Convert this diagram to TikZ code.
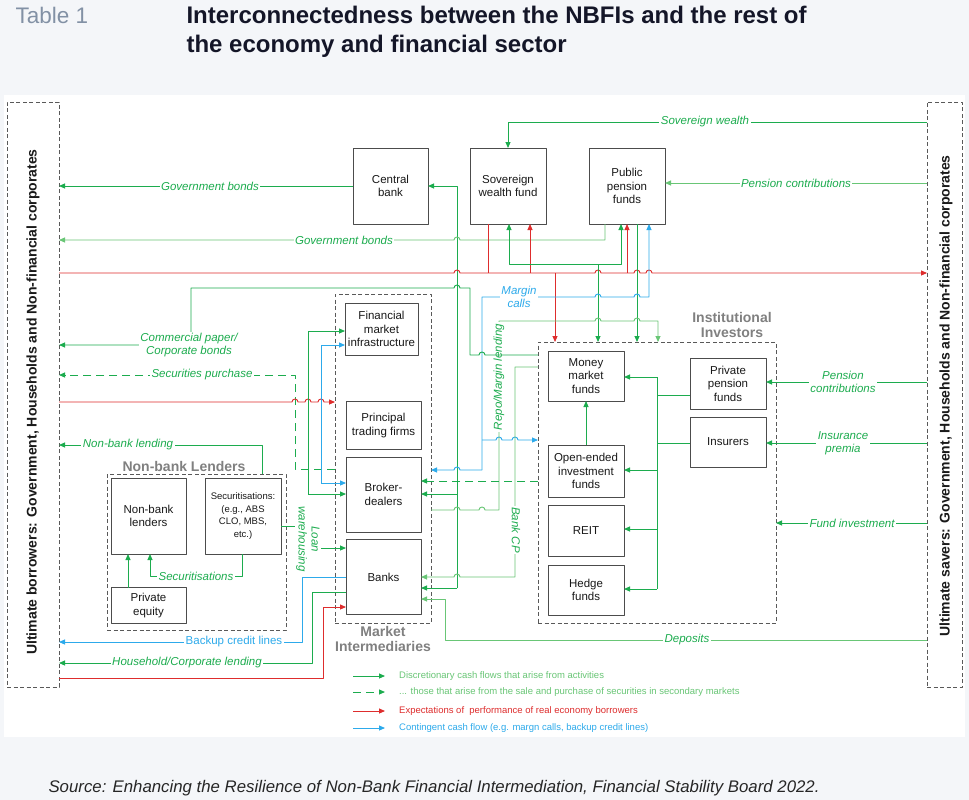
\documentclass[tikz,border=0pt]{standalone}
\usepackage{fontspec}
\setmainfont{Liberation Sans}
\usetikzlibrary{arrows.meta}
\definecolor{gcol}{RGB}{28,172,78}
\definecolor{lgcol}{RGB}{105,198,118}
\definecolor{rcol}{RGB}{222,45,45}
\definecolor{bcol}{RGB}{45,170,235}
\definecolor{bgcol}{RGB}{244,246,249}
\definecolor{tabcol}{RGB}{130,145,165}
\definecolor{titcol}{RGB}{20,22,40}
\begin{document}
\begin{tikzpicture}[x=1pt,y=-1pt,>={Triangle[length=6pt,width=5pt]},line join=round,
    box/.style={draw=black!70,line width=0.9pt,fill=white,inner sep=0pt,outer sep=0pt,align=center,text=black!90,font=\fontsize{11.5}{13.5}\selectfont},
    grpbox/.style={draw=black!65,line width=0.9pt,dash pattern=on 4pt off 2.5pt,inner sep=0pt,outer sep=0pt},
    grplab/.style={text=black!50,font=\fontsize{14}{15}\selectfont\bfseries,align=center},
    side/.style={text=black!90,font=\fontsize{14}{15}\selectfont\bfseries,inner sep=0pt},
    flow/.style={gcol,line width=0.9pt},
    lflow/.style={lgcol,line width=0.9pt},
    sflow/.style={draw=gcol,line width=1pt,dash pattern=on 8pt off 5pt},
    rflow/.style={rcol,line width=0.9pt},
    bflow/.style={bcol,line width=0.9pt},
    lab/.style={fill=white,inner sep=1.5pt,text=gcol,align=center,font=\fontsize{11.5}{13}\selectfont\itshape},
    legtext/.style={anchor=west,inner sep=0pt,font=\fontsize{9.5}{11}\selectfont}]
    \useasboundingbox (0,0) rectangle (969,800);
    \fill[bgcol] (0,0) rectangle (969,800);
    \fill[white] (4,95) rectangle (965,737);
    \def\hopr{arc[start angle=180,end angle=0,radius=3pt]}
    \def\hopl{arc[start angle=0,end angle=180,radius=3pt]}
    % header
    \node[anchor=base west,text=tabcol,font=\fontsize{22.5}{26}\selectfont] (tab) at (12,24) {Table 1};
    \node[anchor=base west,text=titcol,font=\fontsize{24}{29}\selectfont\bfseries] (tit1) at (183,24) {Interconnectedness between the NBFIs and the rest of};
    \node[anchor=base west,text=titcol,font=\fontsize{24}{29}\selectfont\bfseries] (tit2) at (183,53) {the economy and financial sector};
    % ultimate borrowers / savers
    \node[grpbox,minimum width=52,minimum height=585] (lb) at (33,394.5) {};
    \node[grpbox,minimum width=35,minimum height=585] (rb) at (944.5,394.5) {};
    \node[side,rotate=90] (lbt) at (33,402) {Ultimate borrowers: Government, Households and Non-financial corporates};
    \node[side,rotate=90] (rbt) at (946,396) {Ultimate savers: Government, Households and Non-financial corporates};
    % groups
    \node[grpbox,minimum width=96,minimum height=329] (mi) at (383,458.5) {};
    \node[grpbox,minimum width=238,minimum height=281] (ii) at (657,482.5) {};
    \node[grpbox,minimum width=179,minimum height=156] (nb) at (196.5,552) {};
    \node[grplab] (mit) at (383,639) {Market\\Intermediaries};
    \node[grplab] (iit) at (732,325) {Institutional\\Investors};
    \node[grplab] (nbt) at (184,466) {Non-bank Lenders};
    % boxes
    \node[box,minimum width=75,minimum height=76] (cb) at (390.5,186) {Central\\bank};
    \node[box,minimum width=76,minimum height=76] (swf) at (508,186) {Sovereign\\wealth fund};
    \node[box,minimum width=76,minimum height=76] (ppf) at (627,186) {Public\\pension\\funds};
    \node[box,minimum width=73,minimum height=52] (fmi) at (381.5,329) {Financial\\market\\infrastructure};
    \node[box,minimum width=75,minimum height=48] (ptf) at (383.5,425.5) {Principal\\trading firms};
    \node[box,minimum width=75,minimum height=75] (bd) at (383.5,494.5) {Broker-\\dealers};
    \node[box,minimum width=75,minimum height=75] (bank) at (383.5,577) {Banks};
    \node[box,minimum width=76,minimum height=50] (mmf) at (586,376) {Money\\market\\funds};
    \node[box,minimum width=76,minimum height=52] (oef) at (586,471) {Open-ended\\investment\\funds};
    \node[box,minimum width=76,minimum height=51] (reit) at (586,530.5) {REIT};
    \node[box,minimum width=76,minimum height=50] (hf) at (586,590) {Hedge\\funds};
    \node[box,minimum width=76,minimum height=51] (priv) at (728,383.5) {Private\\pension\\funds};
    \node[box,minimum width=76,minimum height=50] (ins) at (728,442) {Insurers};
    \node[box,minimum width=75,minimum height=76] (nbl) at (148.5,516) {Non-bank\\lenders};
    \node[box,minimum width=76,minimum height=76,font=\fontsize{9.5}{12.5}\selectfont] (sec) at (243,516) {Securitisations:\\(e.g., ABS\\CLO, MBS,\\etc.)};
    \node[box,minimum width=75,minimum height=36] (pe) at (148.5,605.5) {Private\\equity};
    % top row flows
    \draw[flow,->] (rb.west |- 0,122) -| (swf.north);
    \node[lab] (lsw) at (705,122) {Sovereign wealth};
    \draw[lflow,->] (rb.west |- 0,183) -- (ppf.east |- 0,183);
    \node[lab] (lpc) at (796,183) {Pension contributions};
    \draw[flow,->] (cb.west) -- (lb.east |- cb);
    \node[lab] (lgb1) at (210,186) {Government bonds};
    \draw[flow,->] (457,588) |- (cb.east);
    \draw[flow,->] (457,494) -- (bd.east |- 0,494);
    \draw[flow,->] (457,588) -- (bank.east |- 0,588);
    \draw[lflow,->] (ppf.south -| 605,0) -- (605,240) -- (460,240) \hopl -- (lb.east |- 0,240);
    \node[lab] (lgb2) at (344,240) {Government bonds};
    % expectations
    \draw[rflow,->] (lb.east |- 0,273) -- (454,273) \hopr -- (595,273) \hopr -- (634,273) \hopr -- (646,273) \hopr -- (rb.west |- 0,273);
    \draw[rflow] (swf.south -| 488,0) -- (488,273);
    \foreach \xx/\bx in {530/swf,627/ppf} \draw[rflow,->] (\xx,273) -- (\bx.south -| \xx,0);
    \draw[rflow,->] (555,273) -- (ii.north -| 555,0);
    \draw[flow,->] (598,264) -- (509,264) -- (swf.south -| 509,0);
    \draw[flow,->] (598,264) -- (621,264) -- (ppf.south -| 621,0);
    \draw[flow,->] (598,264) -- (ii.north -| 598,0);
    \draw[flow,->] (ppf.south -| 637,0) -- (ii.north -| 637,0);
    % margin calls
    \draw[bflow,->] (482,470) -- (482,297) -- (595,297) \hopr -- (634,297) \hopr -- (649,297) -- (ppf.south -| 649,0);
    \draw[bflow,->] (482,470) -- (460,470) \hopl -- (mi.east |- 0,470);
    \draw[bflow,->] (482,440) -- (496,440) \hopr -- (512,440) \hopr -- (ii.west |- 0,440);
    \node[lab,text=bcol] (lmc) at (519,297) {Margin\\calls};
    % repo / bank CP
    \draw[lflow,->] (mi.east |- 0,510) -- (454,510) \hopr -- (479,510) \hopr -- (499,510) -- (499,321) -- (595,321) \hopr -- (634,321) \hopr -- (658,321) -- (ii.north -| 658,0);
    \node[lab,rotate=90] (lrm) at (499,377) {Repo/Margin lending};
    \draw[flow,->] (ii.west |- 0,355) -- (485,355) \hopl -- (470,355) -- (470,288) -- (460,288) \hopl -- (191,288) -- (191,345) -- (lb.east |- 0,345);
    \node[lab] (lcp) at (189,345) {Commercial paper/\\Corporate bonds};
    \draw[lflow,->] (ii.west |- 0,367) -- (515,367) -- (515,577) -- (460,577) \hopl -- (bank.east |- 0,577);
    \node[lab,rotate=-90] (lbc) at (516,530) {Bank CP};
    \draw[sflow,->] (ii.west |- 0,481) -- (bd.east |- 0,481);
    \draw[lflow,->] (rb.west |- 0,640) -- (445,640) -- (445,599) -- (bank.east |- 0,599);
    \node[lab] (ldp) at (687,640) {Deposits};
    % institutional investors
    \draw[flow] (657,377) -- (657,589);
    \draw[flow] (priv.west |- 0,395) -- (657,395);
    \draw[flow] (ins.west |- 0,443) -- (657,443);
    \draw[flow,->] (657,377) -- (mmf.east |- 0,377);
    \foreach \y/\bx in {470/oef,529/reit,589/hf} \draw[flow,->] (657,\y) -- (\bx.east |- 0,\y);
    \draw[flow,->] (oef.north) -- (mmf.south);
    \draw[flow,->] (rb.west |- 0,382) -- (priv.east |- 0,382);
    \node[lab] (lpc2) at (843,382) {Pension\\contributions};
    \draw[flow,->] (rb.west |- 0,443) -- (ins.east |- 0,443);
    \node[lab] (lip) at (843,443) {Insurance\\premia};
    \draw[flow,->] (rb.west |- 0,523) -- (ii.east |- 0,523);
    \node[lab] (lfi) at (852,523) {Fund investment};
    % market intermediaries, left side
    \draw[sflow,->] (mi.west |- 0,469) -- (295,469) -- (295,375) -- (lb.east |- 0,375);
    \node[lab] (lsp) at (202,375) {Securities purchase};
    \draw[rflow,->] (lb.east |- 0,402) -- (292,402) \hopr -- (305,402) \hopr -- (318,402) \hopr -- (mi.west |- 0,402);
    \draw[flow,->] (308,494) |- (fmi.west |- 0,331);
    \draw[flow,->] (308,494) -- (bd.west |- 0,494);
    \draw[bflow,->] (321,483) |- (fmi.west |- 0,345);
    \draw[bflow,->] (321,483) -- (bd.west |- 0,483);
    \draw[flow,->] (sec.east |- 0,526) -- (308,526) -- (308,548) -- (bank.west |- 0,548);
    \node[lab,rotate=-90] (llw) at (308,539) {Loan\\warehousing};
    % non-bank lenders
    \draw[flow,->] (nb.north -| 262,0) -- (262,445) -- (lb.east |- 0,445);
    \node[lab] (lnl) at (128,445) {Non-bank lending};
    \draw[flow,->] (sec.south -| 242,0) -- (242,576) -- (150,576) -- (nbl.south -| 150,0);
    \node[lab] (lsc) at (196,576) {Securitisations};
    \draw[flow,->] (pe.north -| 128,0) -- (nbl.south -| 128,0);
    % banks to borrowers
    \draw[bflow,->] (bank.west |- 0,577) -- (302,577) -- (302,642) -- (lb.east |- 0,642);
    \node[lab,text=bcol,font=\fontsize{11.5}{13}\selectfont] (lbl) at (234,642) {Backup credit lines};
    \draw[flow,->] (bank.west |- 0,592) -- (312,592) -- (312,663) -- (lb.east |- 0,663);
    \node[lab] (lhc) at (187,663) {Household/Corporate lending};
    \draw[rflow,->] (lb.east |- 0,678) -- (323,678) -- (323,607) -- (bank.west |- 0,607);
    % legend
    \node[legtext,text=lgcol] (lg1) at (399,676) {Discretionary cash flows that arise from activities};
    \node[legtext,text=lgcol] (lg2) at (399,692) {... those that arise from the sale and purchase of securities in secondary markets};
    \node[legtext,text=rcol] (lg3) at (399,711) {Expectations of\ \ performance of real economy borrowers};
    \node[legtext,text=bcol] (lg4) at (399,728) {Contingent cash flow (e.g. margn calls, backup credit lines)};
    \foreach \n/\s in {lg1/flow,lg2/sflow,lg3/rflow,lg4/bflow} \draw[\s,->] ([xshift=-46pt]\n.west) -- ([xshift=-14pt]\n.west);
    % source
    \node[anchor=base west,text=black!85,font=\fontsize{16.8}{20}\selectfont\itshape] (src) at (45,792) {Source: Enhancing the Resilience of Non-Bank Financial Intermediation, Financial Stability Board 2022.};
\end{tikzpicture}
\end{document}
